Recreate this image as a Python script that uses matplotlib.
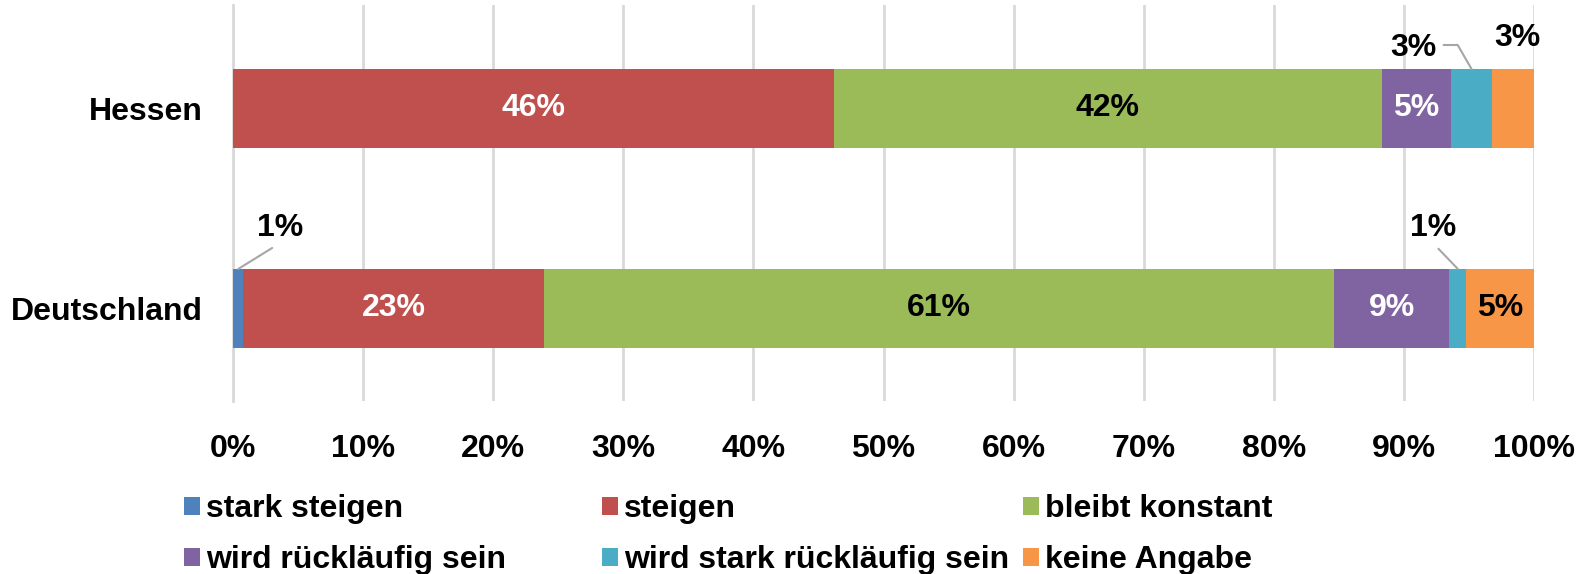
import matplotlib.pyplot as plt
from matplotlib.patches import Patch

plt.rcParams['font.family'] = ['Liberation Sans', 'DejaVu Sans']
plt.rcParams['font.weight'] = 'bold'

regions = ["Deutschland", "Hessen"]
categories = ["stark steigen", "steigen", "bleibt konstant",
              "wird rückläufig sein", "wird stark rückläufig sein", "keine Angabe"]
colors = ["#4F81BD", "#C0504D", "#9BBB59", "#8064A2", "#4BACC6", "#F79646"]

# Anteile in %, Reihenfolge wie categories
deutschland = [0.8, 23.1, 60.7, 8.9, 1.3, 5.2]
hessen = [0.0, 46.2, 42.1, 5.3, 3.2, 3.2]
shown = {"Deutschland": ["1%", "23%", "61%", "9%", "1%", "5%"],
         "Hessen": ["", "46%", "42%", "5%", "3%", "3%"]}
ticks = [0, 10, 20, 30, 40, 50, 60, 70, 80, 90, 100]

FS = 23
BAR_H = 0.395

fig = plt.figure(figsize=(15.94, 5.74), dpi=100)
ax = fig.add_axes([233 / 1594, 1 - 401 / 574, 1301 / 1594, 396 / 574])

data = {"Deutschland": deutschland, "Hessen": hessen}
lefts = {}
for yi, reg in enumerate(regions):
    left = 0
    lefts[reg] = []
    for ci, v in enumerate(data[reg]):
        ax.barh(yi, v, left=left, height=BAR_H, color=colors[ci], zorder=3)
        lefts[reg].append(left)
        left += v

# Beschriftungen innerhalb der Balken
inside = {"Deutschland": [1, 2, 3, 5], "Hessen": [1, 2, 3]}
white = [1, 3]
for yi, reg in enumerate(regions):
    for ci in inside[reg]:
        v = data[reg][ci]
        ax.text(lefts[reg][ci] + v / 2, yi, shown[reg][ci], ha='center', va='center',
                fontsize=FS, fontweight='bold', zorder=4,
                color='white' if ci in white else 'black')

# Beschriftungen außerhalb mit Führungslinien
def outside(reg, ci, dx, dy, line=True, relpos=(0.5, 0), conn="arc3"):
    yi = regions.index(reg)
    x = lefts[reg][ci] + data[reg][ci] / 2
    props = None
    if line:
        props = dict(arrowstyle='-', color='#A6A6A6', lw=1.5, shrinkA=3, shrinkB=0,
                     relpos=relpos, connectionstyle=conn)
    ax.annotate(shown[reg][ci], xy=(x, yi + BAR_H / 2), xytext=(dx * 0.72, dy * 0.72),
                textcoords='offset points', ha='center', va='center', fontsize=FS,
                fontweight='bold', arrowprops=props, zorder=5, annotation_clip=False)

outside("Hessen", 4, -58, 21, relpos=(1.0, 0.6), conn="angle,angleA=0,angleB=120,rad=0")
outside("Hessen", 5, 4, 31, line=False)
outside("Deutschland", 0, 42, 41)
outside("Deutschland", 4, -25, 41)

ax.set_xlim(0, 100)
ax.set_ylim(-0.4625, 1.5175)
ax.set_xticks(ticks)
ax.set_xticklabels([f"{t}%" for t in ticks], fontsize=FS, fontweight='bold')
ax.set_yticks(range(len(regions)))
ax.set_yticklabels(regions, fontsize=FS, fontweight='bold')
ax.tick_params(axis='x', length=0, pad=24)
ax.tick_params(axis='y', length=0, pad=22)
ax.grid(axis='x', color='#D9D9D9', lw=2, zorder=0)
for s in ['top', 'right', 'bottom']:
    ax.spines[s].set_visible(False)
ax.spines['left'].set_color('#D9D9D9')
ax.spines['left'].set_linewidth(2)

# Legende: drei Spalten mit je zwei Einträgen
col_x = [184, 602, 1023]
for k in range(3):
    idx = [k, k + 3]
    handles = [Patch(facecolor=colors[i], edgecolor='none') for i in idx]
    fig.legend(handles, [categories[i] for i in idx], loc='upper left',
               bbox_to_anchor=(col_x[k] / 1594, 1 - 494 / 574), frameon=False,
               prop={'weight': 'bold', 'size': FS}, borderaxespad=0, borderpad=0,
               handlelength=0.5, handleheight=0.5, handletextpad=0.2, labelspacing=0.66)

fig.savefig("out.png", dpi=100)
